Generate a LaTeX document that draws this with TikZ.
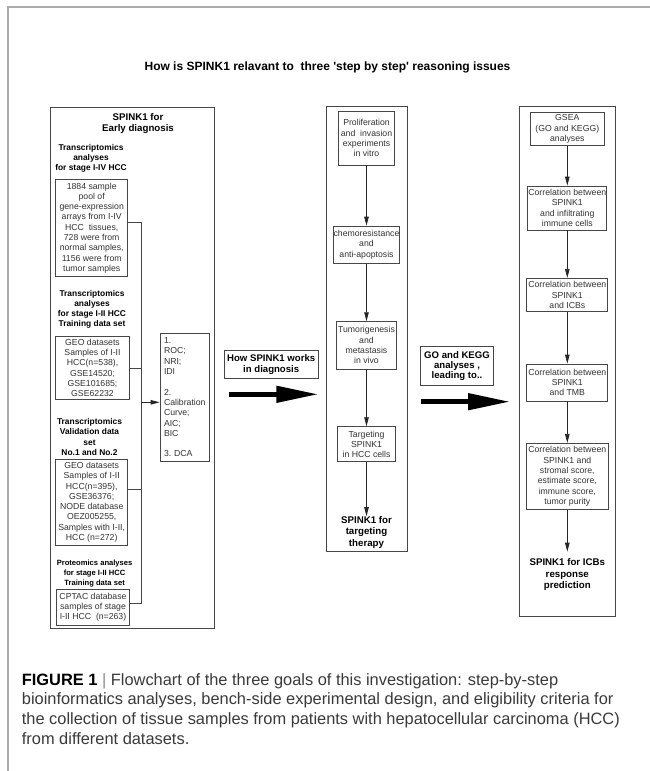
\documentclass[tikz,border=0pt]{standalone}
\usepackage{fontspec}
\setmainfont{Liberation Sans}[Ligatures=TeXOff]
\usetikzlibrary{arrows.meta}
\definecolor{bordc}{HTML}{474747}
\definecolor{txtc}{HTML}{333333}
\definecolor{framec}{HTML}{ABABAB}
\definecolor{capc}{HTML}{3A3A3A}
\tikzset{
  sbox/.style={draw=bordc, line width=0.8pt, inner sep=0pt, align=center, text=txtc, font=\fontsize{8.7}{10.3}\selectfont},
  bigbox/.style={draw=bordc, line width=0.9pt, inner sep=0pt},
  hd/.style={inner sep=0pt, align=center, font=\bfseries\fontsize{8.4}{10.1}\selectfont},
  hdbig/.style={inner sep=0pt, align=center, font=\bfseries\fontsize{9.7}{11.5}\selectfont},
  lbl/.style={draw=bordc, line width=0.8pt, inner sep=0pt, align=center, font=\bfseries\fontsize{9.6}{10.8}\selectfont},
  sarr/.style={line width=0.8pt, draw=black!85, -{Triangle[length=9pt,width=4.5pt]}},
  barr/.style={line width=4.6pt, -{Triangle[length=42pt,width=16pt]}},
  conn/.style={line width=0.8pt, draw=bordc},
}
\begin{document}
\begin{tikzpicture}[x=1pt,y=-1pt]
\useasboundingbox[fill=white] (0,0) rectangle (650,771);
% outer frame (top and left)
\draw[framec, line width=1.3pt] (8,771) -- (8,7) -- (650,7);
% title
\node[inner sep=0pt, font=\bfseries\fontsize{12}{14}\selectfont] (title) at (327.5,67) {How is SPINK1 relavant to\ \ three 'step by step' reasoning issues};

% ---------- left column ----------
\node[bigbox, minimum width=163.6, minimum height=521.3] (L) at (132.5,367.65) {};
\node[hdbig] (h0) at (138,123.5) {SPINK1 for\\Early diagnosis};
\node[hd] (h1) at (91,158) {Transcriptomics\\analyses\\for stage I-IV HCC};
\node[sbox, minimum width=72, minimum height=97.4] (b1) at (91.7,228) {1884 sample\\pool of\\gene-expression\\arrays from I-IV\\HCC\ \ tissues,\\728 were from\\normal samples,\\1156 were from\\tumor samples};
\node[hd] (h2) at (92,309.6) {Transcriptomics\\analyses\\for stage I-II HCC\\Training data set};
\node[sbox, minimum width=73.6, minimum height=62.6] (b2) at (92.5,368) {GEO datasets\\Samples of I-II\\HCC(n=538),\\GSE14520;\\GSE101685;\\GSE62232};
\node[hd] (h3) at (89.5,437) {Transcriptomics\\Validation data\\set\\No.1 and No.2};
\node[sbox, minimum width=72, minimum height=85.7] (b3) at (91.7,502.2) {GEO datasets\\Samples of I-II\\HCC(n=395),\\GSE36376;\\NODE database\\OEZ005255,\\Samples with I-II,\\HCC (n=272)};
\node[hd, font=\bfseries\fontsize{7.6}{10.3}\selectfont] (h4) at (94.6,573.6) {Proteomics analyses\\for stage I-II HCC\\Training data set};
\node[sbox, minimum width=72.6, minimum height=35.7] (b4) at (93,607.2) {CPTAC database\\samples of stage\\I-II HCC\ \ (n=263)};
\node[sbox, align=left, inner xsep=4pt, text width=41pt, minimum width=49, minimum height=128.7] (met) at (184.5,397.3) {1.\\ROC;\\NRI;\\IDI\\[10.3pt]2.\\Calibration\\Curve;\\AIC;\\BIC\\[10.3pt]3.\ DCA};
% bus connectors
\coordinate (bus1) at (141,222.7);
\coordinate (bus3) at (141,489.3);
\coordinate (bus4) at (141,603.3);
\coordinate (busm) at (141,402.3);
\draw[conn] (b1.east |- bus1) -- (bus1) -- (bus4) -- (b4.east |- bus4);
\draw[conn] (b2.east) -- (b2.east -| bus1);
\draw[conn] (b3.east |- bus3) -- (bus3);
\draw[sarr] (busm) -- (busm -| met.west);

% ---------- middle connectors ----------
\node[lbl, minimum width=94.3, minimum height=27.6] (lab1) at (271.2,364.5) {How SPINK1 works\\in diagnosis};
\coordinate (a1s) at (229.3,394.3);
\coordinate (a1e) at (318.3,394.3);
\draw[barr] (a1s) -- (a1e);
\node[lbl, font=\bfseries\fontsize{9.6}{10.2}\selectfont, minimum width=72.6, minimum height=38.3] (lab2) at (457,365.85) {GO and KEGG\\analyses ,\\leading to..};
\coordinate (a2s) at (420.7,401.7);
\coordinate (a2e) at (510,401.7);
\draw[barr] (a2s) -- (a2e);

% ---------- middle column ----------
\node[bigbox, minimum width=81.7, minimum height=445.7] (M) at (366.85,328.85) {};
\node[sbox, minimum width=56, minimum height=53.3] (mA) at (366.5,138.3) {Proliferation\\and\ \ invasion\\experiments\\in vitro};
\node[sbox, minimum width=65.7, minimum height=37.3] (mB) at (366.5,244.7) {chemoresistance\\and\\anti-apoptosis};
\node[sbox, minimum width=60, minimum height=47.3] (mC) at (366.5,345.3) {Tumorigenesis\\and\\metastasis\\in vivo};
\node[sbox, minimum width=58.3, minimum height=35] (mD) at (366.5,444.2) {Targeting\\SPINK1\\in HCC cells};
\node[hdbig, font=\bfseries\fontsize{9.7}{11.3}\selectfont] (mE) at (366.5,532.2) {SPINK1 for\\targeting\\therapy};
\draw[sarr] (mA) -- (mB);
\draw[sarr] (mB) -- (mC);
\draw[sarr] (mC) -- (mD);
\draw[sarr] (mD) -- (mE);

% ---------- right column ----------
\node[bigbox, minimum width=96.4, minimum height=510.7] (R) at (567.5,361.35) {};
\node[sbox, minimum width=74, minimum height=33.4] (r1) at (567.3,129) {GSEA\\(GO and KEGG)\\analyses};
\node[sbox, minimum width=79, minimum height=44] (r2) at (567.3,208) {Correlation between\\SPINK1\\and infiltrating\\immune cells};
\node[sbox, minimum width=81, minimum height=33.4] (r3) at (567.3,295) {Correlation between\\SPINK1\\and ICBs};
\node[sbox, minimum width=81, minimum height=37] (r4) at (567.3,382.5) {Correlation between\\SPINK1\\and TMB};
\node[sbox, minimum width=81.7, minimum height=66] (r5) at (567.3,476.3) {Correlation between\\SPINK1 and\\stromal score,\\estimate score,\\immune score,\\tumor purity};
\node[hdbig, font=\bfseries\fontsize{9.7}{11.3}\selectfont] (rE) at (567.3,574.7) {SPINK1 for ICBs\\response\\prediction};
\draw[sarr] (r1) -- (r2);
\draw[sarr] (r2) -- (r3);
\draw[sarr] (r3) -- (r4);
\draw[sarr] (r4) -- (r5);
\draw[sarr, shorten >=7pt] (r5) -- (rE);

% ---------- caption ----------
\node[anchor=base west, inner sep=0pt, align=left, text=capc, font=\fontsize{16.4}{19.7}\selectfont] (cap) at (21.7,744.1) {{\color{black}\bfseries FIGURE 1} {\color{black!45}|} Flowchart of the three goals of this investigation: step-by-step\\bioinformatics analyses, bench-side experimental design, and eligibility criteria for\\the collection of tissue samples from patients with hepatocellular carcinoma (HCC)\\from different datasets.};
\end{tikzpicture}
\end{document}
